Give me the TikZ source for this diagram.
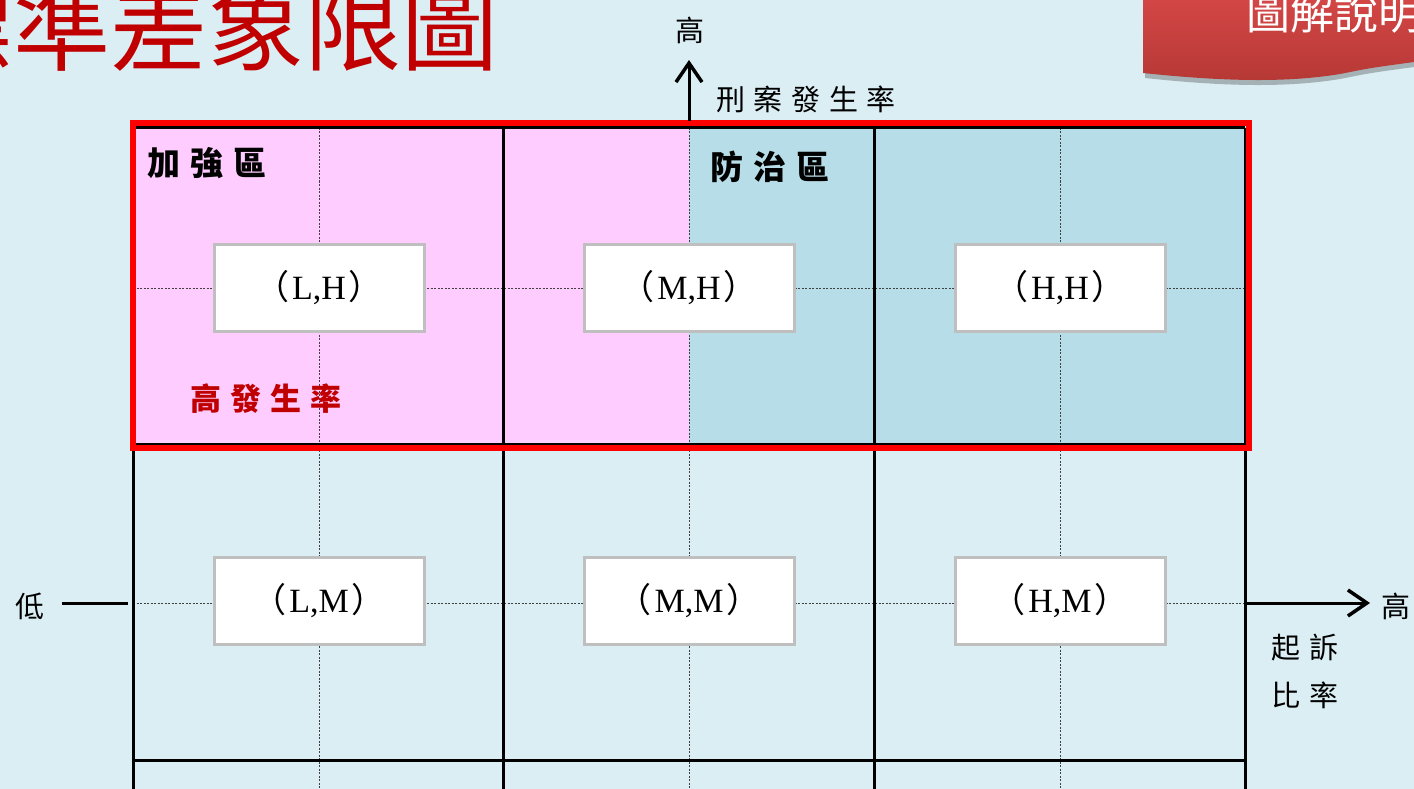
\documentclass[tikz,border=0pt]{standalone}
\usepackage{fontspec}
\setmainfont{Liberation Serif}
\newfontfamily\cjk{Noto Sans CJK TC}
\newfontfamily\cjksp[LetterSpace=30]{Noto Sans CJK TC}
\usetikzlibrary{arrows.meta}
\definecolor{bgblue}{HTML}{DBEEF4}
\definecolor{pinkzone}{HTML}{FFCCFF}
\definecolor{tealzone}{HTML}{B7DEE8}
\definecolor{boxgray}{HTML}{BFBFBF}
\definecolor{titlered}{HTML}{C00000}
\definecolor{ribtop}{HTML}{D44747}
\definecolor{ribbot}{HTML}{B53834}
\newcommand{\pair}[1]{{\cjk（}\hspace{3pt}#1\hspace{3pt}{\cjk）}}

\begin{document}
\begin{tikzpicture}[x=1pt,y=-1pt,
	cell/.style={draw=boxgray,line width=3pt,fill=white,minimum width=210pt,minimum height=87pt,inner sep=0pt,font=\fontsize{34}{34}\selectfont},
	zone/.style={inner sep=0pt,font=\cjksp\bfseries\fontsize{33}{33}\selectfont},
	axislabel/.style={inner sep=0pt,font=\cjksp\fontsize{29}{29}\selectfont},
	solidline/.style={line width=3pt},
	dotline/.style={line width=1pt,black!75,dash pattern=on 2pt off 1.5pt},
	axis/.style={line width=3pt,-{Straight Barb[length=19pt,width=26pt,line width=3.5pt]}}]
				\useasboundingbox (0,0) rectangle (1414,789);
				\clip (0,0) rectangle (1414,789);
				\fill[bgblue] (0,0) rectangle (1414,789);
				
				% Title and ribbon
				\node[anchor=base east,inner sep=0pt,text=titlered,font=\cjk\fontsize{97}{97}\selectfont] (title) at (499,64) {標準差象限圖};
				\fill[black,opacity=0.25] (1145,-5) -- (1145,78) .. controls (1210,85) and (1280,89) .. (1340,79) .. controls (1370,73) .. (1414,67) -- (1414,-5) -- cycle;
				\shade[top color=ribtop,bottom color=ribbot] (1143,-5) -- (1143,73) .. controls (1210,80) and (1280,84) .. (1340,74) .. controls (1370,68) .. (1414,62) -- (1414,-5) -- cycle;
				\node[anchor=west,inner sep=0pt,text=white,font=\cjk\fontsize{44}{44}\selectfont] (ribbon) at (1246,13) {圖解說明};
				
				% Zones
				\fill[pinkzone] (133,128) rectangle (689,444);
				\fill[tealzone] (689,128) rectangle (1245,444);
				
				% Draw the grid
				\foreach \x in {319,689,1060}
				\draw[dotline] (\x,128) -- (\x,789);
				\foreach \y in {288,603}
				\draw[dotline] (133,\y) -- (1245,\y);
				\foreach \x in {133,503,874,1245}
				\draw[solidline] (\x,128) -- (\x,789);
				\foreach \y in {128,444,760}
				\draw[solidline] (133,\y) -- (1245,\y);
				
				% Cells
				\node[cell] (LH) at (319,288) {\pair{L,H}};
				\node[cell] (MH) at (689,288) {\pair{M,H}};
				\node[cell] (HH) at (1060,288) {\pair{H,H}};
				\node[cell] (LM) at (319,601) {\pair{L,M}};
				\node[cell] (MM) at (689,601) {\pair{M,M}};
				\node[cell] (HM) at (1060,601) {\pair{H,M}};
				
				% High rate band
				\draw[red,line width=6pt] (133,123) rectangle (1249,448);
				\node[zone] (boost) at (207,163) {加強區};
				\node[zone] (guard) at (770,167) {防治區};
				\node[zone,text=titlered,font=\cjksp\bfseries\fontsize{31}{31}\selectfont] (highrate) at (266,399) {高發生率};
				
				% Axes
				\coordinate (yfoot) at (689,121);
				\coordinate (ytip) at (689,60);
				\coordinate (xfoot) at (1247,603);
				\coordinate (xtip) at (1370,603);
				\coordinate (xstart) at (62,603);
				\coordinate (xend) at (128,603);
				\draw[axis] (yfoot) -- (ytip);
				\draw[axis] (xfoot) -- (xtip);
				\draw[line width=3pt] (xstart) -- (xend);
				\node[axislabel] (yhigh) at (690,30) {高};
				\node[axislabel] (yname) at (806,99) {刑案發生率};
				\node[axislabel] (xlow) at (30,606) {低};
				\node[axislabel] (xhigh) at (1396,606) {高};
				\node[axislabel] (xname1) at (1305,648) {起訴};
				\node[axislabel] (xname2) at (1305,695) {比率};
			\end{tikzpicture}
\end{document}
